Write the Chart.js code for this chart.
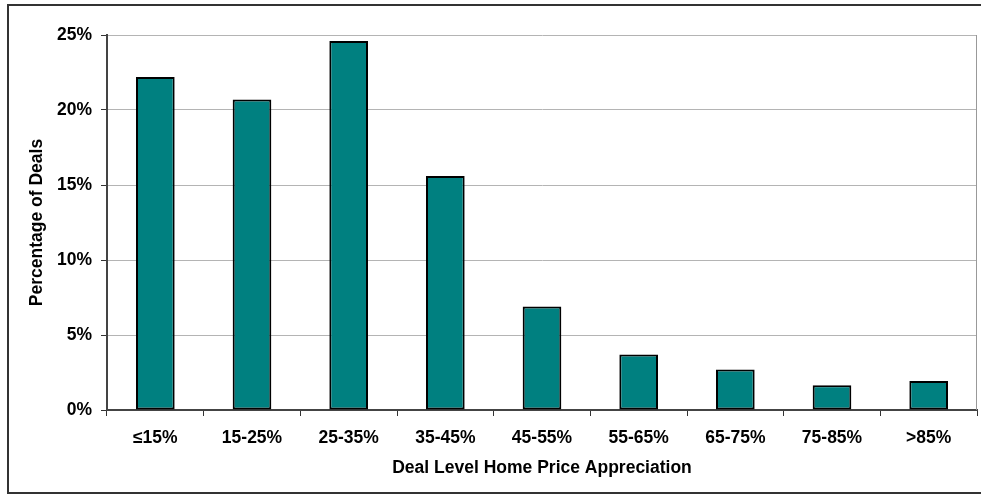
<!DOCTYPE html>
<html lang="en">
<head>
    <meta charset="UTF-8">
    <script src="https://cdn.jsdelivr.net/npm/chart.js"></script>
    <title>Deal Level Home Price Appreciation</title>
    <style>
        body {
            margin: 0;
            background: #fff;
        }
        .frame {
            position: absolute;
            left: 7px;
            top: 4px;
            width: 980px;
            height: 486px;
            border: 2px solid #333;
        }
        canvas {
            position: absolute;
            left: 0;
            top: 0;
        }
    </style>
</head>
<body>
    <div class="frame"></div>
    <canvas id="hpaChart" width="981" height="498"></canvas>
    <script>
        const categories = ['≤15%', '15-25%', '25-35%', '35-45%', '45-55%', '55-65%', '65-75%', '75-85%', '>85%'];
        const dealShare = [22.2, 20.7, 24.6, 15.6, 6.9, 3.7, 2.7, 1.65, 1.93];
        const yTicks = [0, 5, 10, 15, 20, 25];

        Chart.defaults.font.family = '"Liberation Sans", Arial, sans-serif';
        Chart.defaults.font.weight = 'bold';
        Chart.defaults.font.size = 17.5;
        Chart.defaults.color = '#000';

        // grey right edge of the plot area
        const plotEdge = {
            id: 'plotEdge',
            beforeDatasetsDraw(chart) {
                const a = chart.chartArea;
                const c = chart.ctx;
                c.save();
                c.strokeStyle = '#999';
                c.lineWidth = 1;
                c.beginPath();
                c.moveTo(a.right - 0.5, a.top);
                c.lineTo(a.right - 0.5, a.bottom);
                c.stroke();
                c.restore();
            }
        };

        const ctx = document.getElementById('hpaChart').getContext('2d');
        new Chart(ctx, {
            type: 'bar',
            data: {
                labels: categories,
                datasets: [{
                    label: 'Percentage of Deals',
                    data: dealShare,
                    backgroundColor: '#008080',
                    borderColor: '#000',
                    borderWidth: 2,
                    borderSkipped: false,
                    barPercentage: 0.4,
                    categoryPercentage: 1.0
                }]
            },
            options: {
                responsive: false,
                animation: false,
                layout: {
                    padding: { left: 0, top: 35, right: 4, bottom: 0 }
                },
                plugins: {
                    legend: { display: false },
                    tooltip: { enabled: false }
                },
                scales: {
                    x: {
                        afterFit(scale) { scale.height = 88; },
                        grid: {
                            drawOnChartArea: false,
                            drawTicks: true,
                            tickLength: 6,
                            tickColor: '#333',
                            offset: true
                        },
                        border: { color: '#444', width: 2 },
                        ticks: { padding: 12, maxRotation: 0 },
                        title: {
                            display: true,
                            text: 'Deal Level Home Price Appreciation',
                            padding: { top: 0, bottom: 19 }
                        }
                    },
                    y: {
                        min: 0,
                        max: 25,
                        afterFit(scale) { scale.width = 107; },
                        afterBuildTicks(axis) {
                            axis.ticks = yTicks.map(v => ({ value: v }));
                        },
                        grid: {
                            color: '#b4b4b4',
                            tickLength: 6,
                            tickColor: '#333'
                        },
                        border: { color: '#444', width: 2 },
                        ticks: {
                            padding: 9,
                            callback: v => v + '%'
                        },
                        title: {
                            display: true,
                            text: 'Percentage of Deals',
                            padding: { top: 27, bottom: 0 }
                        }
                    }
                }
            },
            plugins: [plotEdge]
        });
    </script>
</body>
</html>
